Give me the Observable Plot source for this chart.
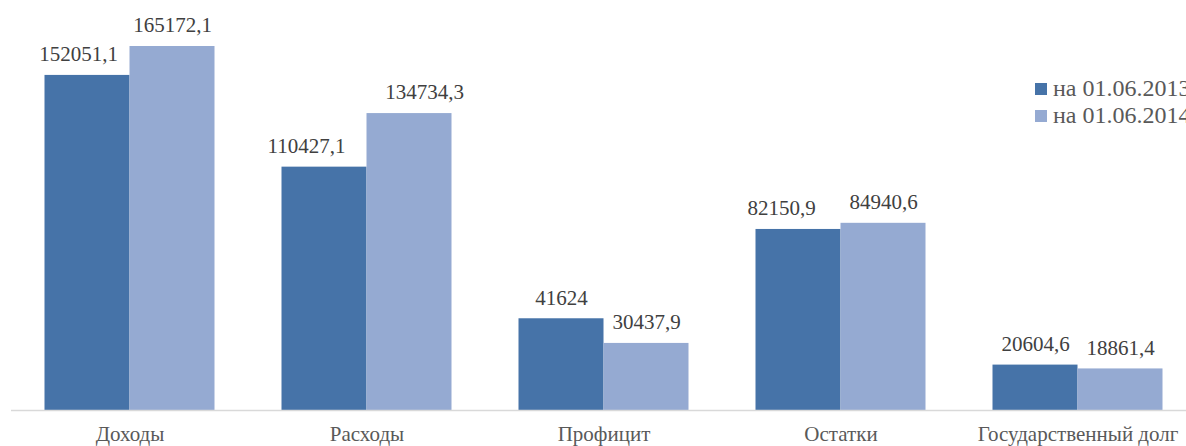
<!DOCTYPE html>
<html>
<head>
<meta charset="utf-8">
<script src="https://cdn.jsdelivr.net/npm/d3@7"></script>
<script src="https://cdn.jsdelivr.net/npm/@observablehq/plot@0.6"></script>
<style>
  html, body { margin: 0; padding: 0; background: #fff; overflow: hidden; }
  #wrap { position: relative; width: 1186px; height: 446px; overflow: hidden; font-family: "Liberation Serif", "DejaVu Serif", serif; }
  #wrap svg, #wrap svg text { font-family: "Liberation Serif", "DejaVu Serif", serif !important; }
  #legend { position: absolute; left: 1035px; top: 75px; font-family: "Liberation Serif", serif; font-size: 24px; color: #595959; white-space: nowrap; }
  #legend .item { display: flex; align-items: center; height: 27px; }
  #legend .sw { width: 12px; height: 12px; margin-right: 6px; }
</style>
</head>
<body>
<div id="wrap"><div id="legend"></div></div>
<script>
const categories = ["Доходы", "Расходы", "Профицит", "Остатки", "Государственный долг"];
const seriesNames = ["на 01.06.2013", "на 01.06.2014"];
const values2013 = [152051.1, 110427.1, 41624, 82150.9, 20604.6];
const values2014 = [165172.1, 134734.3, 30437.9, 84940.6, 18861.4];
const colors = ["#4673a8", "#95aad2"];

const data = [];
categories.forEach((c, i) => {
  data.push({category: c, series: seriesNames[0], value: values2013[i]});
  data.push({category: c, series: seriesNames[1], value: values2014[i]});
});

const fmt = v => String(v).replace(".", ",");

// label nudges as in the original (styling only)
const nudge = {
  "Доходы|на 01.06.2013": -9,
  "Расходы|на 01.06.2013": -18,
  "Остатки|на 01.06.2013": -17,
  "Расходы|на 01.06.2014": 15
};
const key = d => d.category + "|" + d.series;
const shifts = [...new Set([0, ...Object.values(nudge)])];
const labelMarks = shifts.map(s => Plot.text(
  data.filter(d => (nudge[key(d)] || 0) === s),
  {fx: "category", x: "series", y: "value", text: d => fmt(d.value), dy: -21, dx: s, fontSize: 21,
   fontFamily: "Liberation Serif", fill: "#404040"}
));

const chart = Plot.plot({
  width: 1186,
  height: 446,
  marginLeft: 10.5,
  marginRight: -9.5,
  marginTop: 0,
  marginBottom: 36,
  style: {background: "transparent", fontFamily: "Liberation Serif"},
  fx: {domain: categories, padding: 0, label: null, axis: "bottom", tickSize: 0, tickPadding: 16},
  x: {domain: seriesNames, paddingInner: 0, paddingOuter: 0.378, axis: null},
  y: {domain: [0, 165172.1], range: [410, 46], axis: null},
  color: {domain: seriesNames, range: colors},
  marks: [
    Plot.barY(data, {fx: "category", x: "series", y: "value", fill: "series"}),
    Plot.ruleY([0], {stroke: "#d9d9d9", strokeWidth: 1.3}),
    ...labelMarks
  ]
});
chart.querySelectorAll('g[aria-label^="fx-axis"]').forEach(g => {
  g.setAttribute("font-size", "21");
  g.style.fontSize = "21px";
  g.setAttribute("fill", "#595959");
  g.querySelectorAll("text").forEach(t => t.setAttribute("fill", "#595959"));
});
const wrap = document.getElementById("wrap");
wrap.insertBefore(chart, wrap.firstChild);

const legend = document.getElementById("legend");
seriesNames.forEach((s, i) => {
  const item = document.createElement("div");
  item.className = "item";
  const sw = document.createElement("span");
  sw.className = "sw";
  sw.style.background = colors[i];
  const t = document.createElement("span");
  t.textContent = s;
  item.appendChild(sw);
  item.appendChild(t);
  legend.appendChild(item);
});
</script>
</body>
</html>
